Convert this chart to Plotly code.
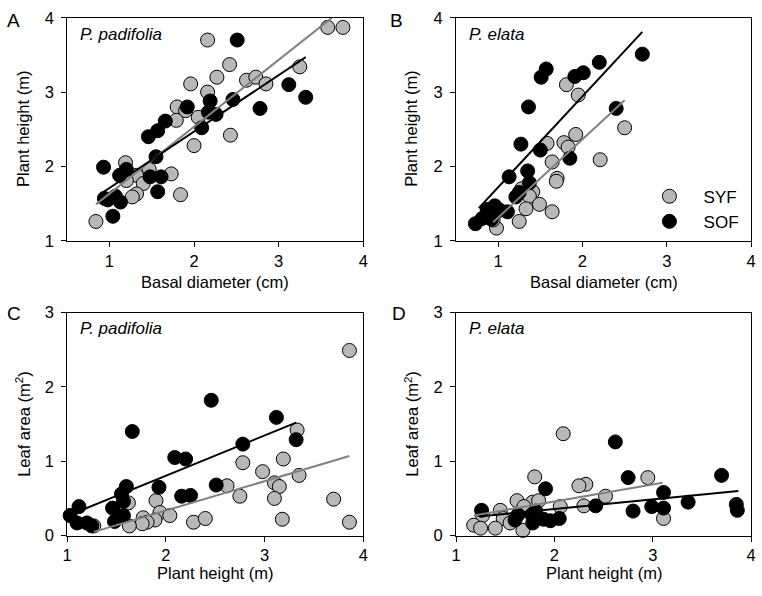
import plotly.graph_objects as go

# ---------------- data ----------------
# Panel A: P. padifolia, basal diameter (cm) vs plant height (m)
a_syf_x = [0.84, 2.16, 2.42, 2.27, 1.96, 2.16, 2.62, 2.73, 2.85, 3.25, 3.58, 3.76, 1.80, 1.90, 1.79,
           2.43, 2.00, 1.19, 1.47, 1.73, 1.32, 1.20, 1.40, 1.32, 1.27, 1.84, 2.05]
a_syf_y = [1.26, 3.70, 3.37, 3.20, 3.11, 3.00, 3.16, 3.20, 3.11, 3.34, 3.87, 3.87, 2.80, 2.75, 2.62,
           2.42, 2.28, 2.05, 1.96, 1.90, 1.88, 1.81, 1.77, 1.63, 1.59, 1.62, 2.66]
a_sof_x = [2.51, 3.12, 3.32, 2.78, 2.46, 2.19, 2.17, 2.26, 1.92, 1.66, 1.57, 1.46, 2.09, 1.55, 0.93,
           1.20, 1.12, 1.48, 1.61, 1.57, 0.94, 1.07, 1.13, 1.04, 0.98]
a_sof_y = [3.70, 3.10, 2.93, 2.78, 2.90, 2.88, 2.73, 2.70, 2.80, 2.61, 2.48, 2.40, 2.52, 2.13, 1.99,
           1.96, 1.88, 1.86, 1.86, 1.66, 1.57, 1.60, 1.52, 1.33, 1.55]
a_fit_syf_x = [0.84, 3.63]
a_fit_syf_y = [1.49, 4.00]
a_fit_sof_x = [0.92, 3.32]
a_fit_sof_y = [1.65, 3.47]

# Panel B: P. elata, basal diameter (cm) vs plant height (m)
b_syf_x = [1.81, 1.95, 2.50, 1.92, 1.58, 1.78, 1.83, 2.21, 1.64, 1.70, 1.69, 1.28, 1.41, 1.37, 1.49,
           1.33, 1.64, 1.25, 0.98, 0.94]
b_syf_y = [3.10, 2.96, 2.52, 2.43, 2.31, 2.32, 2.26, 2.09, 2.06, 1.84, 1.80, 1.70, 1.66, 1.60, 1.49,
           1.43, 1.39, 1.26, 1.17, 1.28]
b_sof_x = [2.71, 2.20, 2.01, 1.91, 1.57, 1.51, 1.36, 2.40, 1.27, 1.50, 1.85, 1.13, 1.35, 1.37, 1.25,
           1.21, 0.96, 0.87, 1.02, 1.11, 0.81, 0.73, 0.92]
b_sof_y = [3.51, 3.40, 3.26, 3.21, 3.31, 3.20, 2.80, 2.78, 2.30, 2.22, 2.11, 1.86, 1.94, 1.78, 1.65,
           1.59, 1.47, 1.42, 1.41, 1.39, 1.30, 1.23, 1.29]
b_fit_syf_x = [0.94, 2.50]
b_fit_syf_y = [1.25, 2.89]
b_fit_sof_x = [0.77, 2.71]
b_fit_sof_y = [1.44, 3.81]

# Panel C: P. padifolia, plant height (m) vs leaf area (m2)
c_syf_x = [3.86, 3.33, 3.19, 2.78, 2.98, 3.35, 3.10, 3.15, 2.62, 2.75, 3.10, 3.70, 1.90, 1.62, 1.94,
           2.04, 1.77, 1.89, 1.81, 1.76, 2.28, 2.40, 3.18, 3.86, 1.63, 1.27]
c_syf_y = [2.49, 1.42, 1.03, 0.98, 0.86, 0.81, 0.71, 0.66, 0.67, 0.53, 0.50, 0.49, 0.47, 0.44, 0.31,
           0.27, 0.24, 0.21, 0.18, 0.16, 0.18, 0.23, 0.22, 0.18, 0.13, 0.13]
c_sof_x = [2.46, 3.12, 1.66, 3.32, 2.78, 2.09, 2.20, 2.51, 1.93, 1.60, 1.55, 1.57, 2.16, 2.25, 1.46,
           1.12, 1.57, 1.48, 1.03, 1.10, 1.20, 1.25]
c_sof_y = [1.82, 1.59, 1.40, 1.29, 1.23, 1.05, 1.03, 0.68, 0.65, 0.66, 0.56, 0.46, 0.53, 0.54, 0.37,
           0.39, 0.27, 0.19, 0.27, 0.17, 0.17, 0.13]
c_fit_syf_x = [1.27, 3.86]
c_fit_syf_y = [0.05, 1.07]
c_fit_sof_x = [1.03, 3.32]
c_fit_sof_y = [0.28, 1.52]

# Panel D: P. elata, plant height (m) vs leaf area (m2)
d_syf_x = [2.09, 2.95, 1.80, 2.32, 2.25, 2.52, 1.62, 1.78, 1.84, 2.06, 2.30, 1.45, 1.69, 1.27, 1.48,
           1.55, 1.18, 1.25, 1.40, 1.68, 3.11]
d_syf_y = [1.37, 0.78, 0.79, 0.69, 0.67, 0.53, 0.47, 0.45, 0.47, 0.39, 0.40, 0.34, 0.39, 0.27, 0.23,
           0.17, 0.14, 0.10, 0.10, 0.07, 0.23]
d_sof_x = [2.62, 3.70, 2.75, 1.91, 3.11, 3.36, 3.85, 3.86, 2.42, 2.99, 3.11, 2.80, 1.26, 1.63, 1.77,
           1.78, 1.89, 1.96, 2.05, 1.60, 1.81]
d_sof_y = [1.26, 0.81, 0.78, 0.63, 0.58, 0.45, 0.42, 0.34, 0.40, 0.39, 0.37, 0.33, 0.34, 0.28, 0.28,
           0.17, 0.22, 0.20, 0.23, 0.21, 0.33]
d_fit_syf_x = [1.18, 3.10]
d_fit_syf_y = [0.27, 0.71]
d_fit_sof_x = [1.25, 3.87]
d_fit_sof_y = [0.26, 0.60]

tick_vals_top = [1, 2, 3, 4]
tick_vals_bottom_y = [0, 1, 2, 3]

# ---------------- styling ----------------
W, H = 762, 596
FONT = "Liberation Sans, Arial, Helvetica, sans-serif"
GRAY_FILL = "#b8b8b8"
GRAY_LINE = "#808080"
MSIZE = 14
TICK_SIZE = 16.5
TITLE_SIZE = 16.5

def px_x(p):
    return p / W

def px_y(p):
    return 1 - p / H

col_dom = [[px_x(63), px_x(363)], [px_x(457), px_x(756)]]
row_dom = [[px_y(239), px_y(9)], [px_y(543), px_y(313)]]

fig = go.Figure()

panels = [
    ("x", "y", a_syf_x, a_syf_y, a_sof_x, a_sof_y, a_fit_syf_x, a_fit_syf_y, a_fit_sof_x, a_fit_sof_y, False),
    ("x2", "y2", b_syf_x, b_syf_y, b_sof_x, b_sof_y, b_fit_syf_x, b_fit_syf_y, b_fit_sof_x, b_fit_sof_y, True),
    ("x3", "y3", c_syf_x, c_syf_y, c_sof_x, c_sof_y, c_fit_syf_x, c_fit_syf_y, c_fit_sof_x, c_fit_sof_y, False),
    ("x4", "y4", d_syf_x, d_syf_y, d_sof_x, d_sof_y, d_fit_syf_x, d_fit_syf_y, d_fit_sof_x, d_fit_sof_y, False),
]

for xa, ya, sx, sy, ox, oy, fsx, fsy, fox, foy, legend in panels:
    fig.add_trace(go.Scatter(x=sx, y=sy, xaxis=xa, yaxis=ya, mode="markers",
                             name="&nbsp;&nbsp;&nbsp;SYF",
                             showlegend=legend, cliponaxis=False,
                             marker=dict(size=MSIZE, color=GRAY_FILL, line=dict(color="black", width=1))))
    fig.add_trace(go.Scatter(x=ox, y=oy, xaxis=xa, yaxis=ya, mode="markers",
                             name="&nbsp;&nbsp;&nbsp;SOF",
                             showlegend=legend, cliponaxis=False,
                             marker=dict(size=MSIZE, color="black", line=dict(color="black", width=1))))
    fig.add_trace(go.Scatter(x=fsx, y=fsy, xaxis=xa, yaxis=ya, mode="lines", showlegend=False,
                             line=dict(color=GRAY_LINE, width=2)))
    fig.add_trace(go.Scatter(x=fox, y=foy, xaxis=xa, yaxis=ya, mode="lines", showlegend=False,
                             line=dict(color="black", width=2)))

axis_common = dict(showline=True, linecolor="black", linewidth=1, mirror=True,
                   ticks="outside", ticklen=5, tickcolor="black", tickwidth=1,
                   showgrid=False, zeroline=False,
                   tickfont=dict(family=FONT, size=TICK_SIZE, color="black"))

layout_axes = {}
specs = [
    ("xaxis", "yaxis", "y", "x", col_dom[0], row_dom[0], [0.5, 4], [1, 4], tick_vals_top, tick_vals_top),
    ("xaxis2", "yaxis2", "y2", "x2", col_dom[1], row_dom[0], [0.5, 4], [1, 4], tick_vals_top, tick_vals_top),
    ("xaxis3", "yaxis3", "y3", "x3", col_dom[0], row_dom[1], [1, 4], [0, 3], tick_vals_top, tick_vals_bottom_y),
    ("xaxis4", "yaxis4", "y4", "x4", col_dom[1], row_dom[1], [1, 4], [0, 3], tick_vals_top, tick_vals_bottom_y),
]
for xk, yk, anc_x, anc_y, xd, yd, xr, yr, xt, yt in specs:
    layout_axes[xk] = dict(axis_common, domain=xd, range=xr, anchor=anc_x, tickvals=xt,
                           ticklabelstandoff=0)
    layout_axes[yk] = dict(axis_common, domain=yd, range=yr, anchor=anc_y, tickvals=yt,
                           ticklabelstandoff=4)

fig.update_layout(**layout_axes)

annotations = []

def ann(text, x, y, size=TITLE_SIZE, angle=0, xanchor="center", yanchor="middle"):
    annotations.append(dict(text=text, x=px_x(x), y=px_y(y), xref="paper", yref="paper",
                            showarrow=False, textangle=angle, xanchor=xanchor, yanchor=yanchor,
                            font=dict(family=FONT, size=size, color="black")))

# panel letters
ann("A", 9, 12, size=19)
ann("B", 397, 12, size=19)
ann("C", 9, 314, size=19)
ann("D", 399, 314, size=19)
# species labels
ann("<i>P. padifolia</i>", 74, 26, size=17, xanchor="left")
ann("<i>P. elata</i>", 468, 26, size=17, xanchor="left")
ann("<i>P. padifolia</i>", 74, 329, size=17, xanchor="left")
ann("<i>P. elata</i>", 468, 329, size=17, xanchor="left")
# axis titles
ann("Plant height (m)", 18, 124, angle=-90)
ann("Plant height (m)", 412, 124, angle=-90)
ann("Leaf area (m<sup>2</sup>)", 18, 428, angle=-90)
ann("Leaf area (m<sup>2</sup>)", 412, 428, angle=-90)
ann("Basal diameter (cm)", 213, 282)
ann("Basal diameter (cm)", 607, 282)
ann("Plant height (m)", 213, 582)
ann("Plant height (m)", 607, 582)

fig.update_layout(
    width=W, height=H,
    margin=dict(l=0, r=0, t=0, b=0),
    paper_bgcolor="white", plot_bgcolor="white",
    font=dict(family=FONT, size=TITLE_SIZE, color="black"),
    annotations=annotations,
    legend=dict(x=px_x(653), y=px_y(175), xanchor="left", yanchor="top",
                bgcolor="rgba(0,0,0,0)", borderwidth=0,
                font=dict(family=FONT, size=17, color="black"),
                tracegroupgap=0),
)

fig.write_html("out.html",
               config={"displayModeBar": False},
               post_script="document.body.style.margin='0';document.body.style.padding='0';")
